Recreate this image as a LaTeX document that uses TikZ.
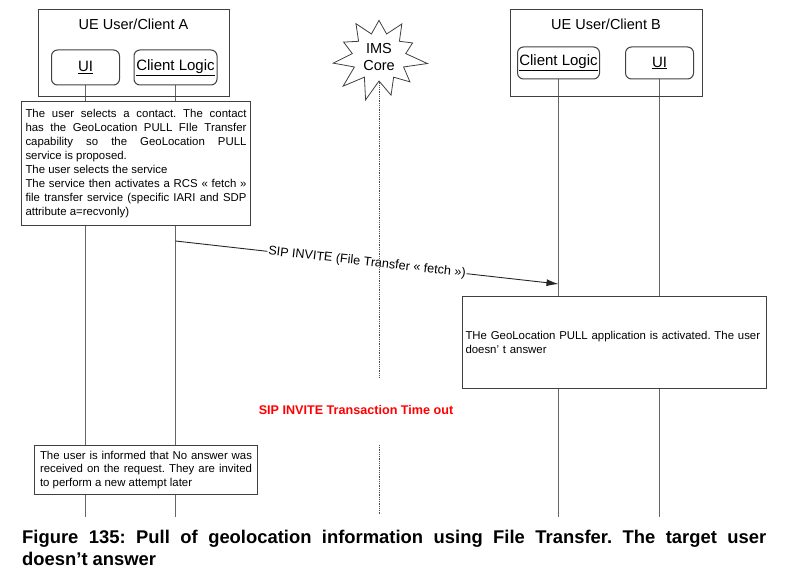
\documentclass[tikz,border=0pt]{standalone}
\usepackage{fontspec}
\setmainfont{Liberation Sans}
\usetikzlibrary{positioning,shapes.symbols,arrows.meta,backgrounds}
\hyphenpenalty=10000
\exhyphenpenalty=10000
\tolerance=9999
\frenchspacing

\tikzset{
  ue/.style={draw=black!75, line width=1pt, minimum height=87pt},
  comp/.style={draw=black!75, line width=1pt, rounded corners=6pt, inner sep=1pt,
    font=\fontsize{15}{17}\selectfont},
  note/.style={draw=black!75, line width=1pt, fill=white, align=justify, anchor=north west},
  life/.style={draw=black!60, line width=1.1pt},
  imslife/.style={draw=black!70, line width=0.8pt, densely dotted},
  msg/.style={draw=black!85, line width=0.9pt, -{Latex[length=12pt,width=7pt]}}
}

\begin{document}
\begin{tikzpicture}[x=1pt,y=-1pt,font=\fontsize{11.4}{13.9}\selectfont]
\useasboundingbox (0,0) rectangle (802,577);

\node[ue, minimum width=191pt] (ueA) at (133.5,53.5) {};
\node[font=\fontsize{14.5}{17}\selectfont] (ueAt) at (133.5,24) {UE User/Client A};
\node[comp, minimum width=68pt, minimum height=35pt] (uiA) at (85.5,67.5) {\underline{UI}};
\node[comp, minimum width=83pt, minimum height=35pt] (clA) at (175.5,67.5) {\underline{Client Logic}};

\node[ue, minimum width=192pt] (ueB) at (606,53.5) {};
\node[font=\fontsize{14.5}{17}\selectfont] (ueBt) at (606,24) {UE User/Client B};
\node[comp, minimum width=82pt, minimum height=32pt] (clB) at (558.5,63) {\underline{Client Logic}};
\node[comp, minimum width=68pt, minimum height=32pt] (uiB) at (659.5,63) {\underline{UI}};

\node[starburst, draw=black!75, line width=0.8pt, starburst points=11, starburst point height=22pt,
  random starburst=150, minimum width=98pt, minimum height=92pt, inner sep=0pt, align=center,
  font=\fontsize{14.5}{17}\selectfont] (ims) at (379,57) {IMS\\Core};

\node[note, text width=221pt, minimum height=124pt, inner sep=4pt] (selA) at (21,101)
  {The user selects a contact. The contact has the GeoLocation PULL FIle Transfer capability so the GeoLocation PULL\linebreak service is proposed.\\
   The user selects the service\\
   The service then activates a RCS « fetch » file transfer service (specific IARI and SDP attribute a=recvonly)};

\node[note, align=left, text width=298pt, minimum height=92pt, inner sep=3pt] (appB) at (462,296)
  {THe GeoLocation PULL application is activated. The user\\doesn’ t answer};

\node[text=red, font=\bfseries\fontsize{12.6}{15}\selectfont] (timeout) at (356,410) {SIP INVITE Transaction Time out};

\node[note, text width=212pt, inner sep=5.5pt, font=\fontsize{11.4}{13.5}\selectfont] (infA) at (34,445)
  {The user is informed that No answer was received on the request. They are invited to perform a new attempt later};

\node[anchor=north west, text width=744pt, align=justify, inner sep=0pt,
  font=\bfseries\fontsize{18.4}{22}\selectfont] (caption) at (22,530)
  {Figure 135: Pull of geolocation information using File Transfer. The target user\linebreak doesn’t answer};

\coordinate (bot) at (0,517);
\coordinate (gapA) at (0,377);
\coordinate (gapB) at (0,445);
\coordinate (invS) at (175.5,241);
\coordinate (invE) at (558.5,284);

\begin{pgfonlayer}{background}
\draw[life] (uiA.south) -- (uiA.south |- bot);
\draw[life] (clA.south) -- (clA.south |- bot);
\draw[life] (clB.south) -- (clB.south |- bot);
\draw[life] (uiB.south) -- (uiB.south |- bot);
\end{pgfonlayer}

\draw[msg] (invS) -- node[sloped, fill=white, inner sep=1pt, font=\fontsize{12.6}{14}\selectfont]
  {SIP INVITE (File Transfer « fetch »)} (invE);

\draw[imslife] (ims.south) -- (ims.south |- gapA);
\draw[imslife] (ims.south |- gapB) -- ([yshift=2pt]ims.south |- bot);
\end{tikzpicture}
\end{document}
